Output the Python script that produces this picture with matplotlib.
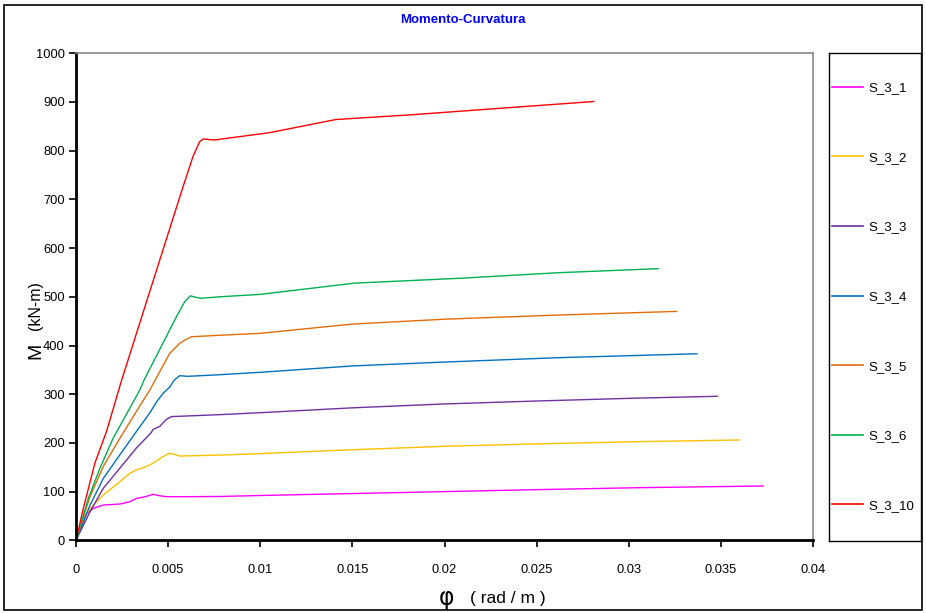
import matplotlib
matplotlib.use("Agg")
import matplotlib.pyplot as plt
from matplotlib.patches import Rectangle
from matplotlib.lines import Line2D
import numpy as np

plt.rcParams['font.family'] = ['Liberation Sans', 'DejaVu Sans']

# ---- data (curvature phi [rad/m], moment M [kN-m]) ----
phi_s3_1 = [0, 0.00022, 0.00058, 0.00094, 0.00148, 0.00239, 0.0029, 0.00329, 0.0038, 0.00419,
            0.0046, 0.00491, 0.006, 0.0078, 0.01, 0.015, 0.02, 0.025, 0.0305, 0.0373]
m_s3_1 = [0, 24, 55, 65.5, 72.4, 74.5, 79, 86, 90, 94.4,
          91, 89.6, 89.6, 90, 92, 96, 100, 104, 108, 111.5]

phi_s3_2 = [0, 0.00058, 0.00094, 0.00148, 0.00239, 0.0029, 0.00329, 0.0038, 0.00419, 0.0046,
            0.00504, 0.0053, 0.00563, 0.0078, 0.01, 0.015, 0.02, 0.025, 0.0305, 0.036]
m_s3_2 = [0, 55, 72.4, 93, 120.6, 137, 145, 151, 158.5, 169,
          178.4, 177, 173, 175, 178, 186, 193, 198, 202.5, 206]

phi_s3_3 = [0, 0.00076, 0.00148, 0.00239, 0.00329, 0.00406, 0.00419, 0.00455, 0.00491, 0.00518,
            0.0078, 0.01, 0.015, 0.02, 0.025, 0.0305, 0.0348]
m_s3_3 = [0, 58.6, 106.8, 148.5, 190, 220, 227.6, 234, 248.4, 254,
          258, 262, 272, 280, 286, 292, 295.7]

phi_s3_4 = [0, 0.00076, 0.00148, 0.00239, 0.00329, 0.00401, 0.00437, 0.00473, 0.0051, 0.00531,
            0.00563, 0.00608, 0.0078, 0.01, 0.015, 0.02, 0.0262, 0.0337]
m_s3_4 = [0, 72, 127, 176, 224, 262, 284, 302, 315, 328,
          338, 336.7, 340, 345, 358, 366, 375, 383]

phi_s3_5 = [0, 0.00076, 0.00148, 0.00239, 0.00329, 0.00401, 0.00428, 0.00509, 0.00563, 0.006,
            0.00627, 0.0078, 0.01, 0.015, 0.02, 0.0262, 0.0326]
m_s3_5 = [0, 89.6, 151.7, 210, 265.5, 308.7, 328, 384, 404.5, 413,
          418, 421, 425, 444, 454, 462.6, 470]

phi_s3_6 = [0, 0.00067, 0.0013, 0.00202, 0.00293, 0.00347, 0.00368, 0.00545, 0.0059, 0.00621,
            0.0065, 0.0068, 0.0078, 0.01, 0.0151, 0.0208, 0.0262, 0.0316]
m_s3_6 = [0, 86, 148, 210, 272, 309, 328, 459, 490, 502,
          499, 497, 500, 505, 528, 538, 549.5, 557.8]

phi_s3_10 = [0, 0.0004, 0.00103, 0.00166, 0.00247, 0.00455, 0.00581, 0.00635, 0.0067, 0.0069,
             0.0075, 0.0105, 0.0125, 0.0141, 0.0183, 0.0219, 0.0281]
m_s3_10 = [0, 66, 159, 224, 328, 576, 726, 788, 818, 824,
           822, 837, 852, 864, 874, 884, 901]

series_names = ["S_3_1", "S_3_2", "S_3_3", "S_3_4", "S_3_5", "S_3_6", "S_3_10"]
series_colors = ["#FF00FF", "#FFC000", "#7030A0", "#0070C0", "#E46C0A", "#00B050", "#FF0000"]
series_phi = [phi_s3_1, phi_s3_2, phi_s3_3, phi_s3_4, phi_s3_5, phi_s3_6, phi_s3_10]
series_m = [m_s3_1, m_s3_2, m_s3_3, m_s3_4, m_s3_5, m_s3_6, m_s3_10]

x_ticks = [0, 0.005, 0.01, 0.015, 0.02, 0.025, 0.03, 0.035, 0.04]
x_tick_labels = ["0", "0.005", "0.01", "0.015", "0.02", "0.025", "0.03", "0.035", "0.04"]
y_ticks = list(range(0, 1001, 100))

W, H = 926, 613
fig = plt.figure(figsize=(W / 100, H / 100), dpi=100)

def fx(px):
    return px / W

def fy(py):
    return 1 - py / H

# main axes
L, R, T, B = 76, 813, 53.3, 540.3
ax = fig.add_axes([fx(L), fy(B), (R - L) / W, (B - T) / H])
for xs, ys, c in zip(series_phi, series_m, series_colors):
    ax.plot(xs, ys, color=c, lw=1.0, solid_joinstyle='round')
ax.set_xlim(0, 0.04)
ax.set_ylim(0, 1000)
ax.set_xticks(x_ticks)
ax.set_xticklabels(x_tick_labels)
ax.set_yticks(y_ticks)
ax.tick_params(axis='both', direction='out', length=5, width=1.2, labelsize=9.3, color='black')
ax.tick_params(axis='x', pad=12)
ax.tick_params(axis='y', pad=3)
for s in ['left', 'bottom']:
    ax.spines[s].set_color('black')
    ax.spines[s].set_linewidth(2.0)
for s in ['top', 'right']:
    ax.spines[s].set_color('#888888')
    ax.spines[s].set_linewidth(1.2)

# title
fig.text(0.5, fy(20), "Momento-Curvatura", color='#0000FF', fontsize=9.5,
         fontweight='bold', ha='center', va='center')

# y label
fig.text(fx(36), fy(351), "M", fontsize=14, rotation=90, ha='center', va='center')
fig.text(fx(36), fy(306), "(kN-m)", fontsize=11.5, rotation=90, ha='center', va='center')

# x label
fig.text(fx(447), fy(598), "φ", fontsize=17, ha='center', va='center',
         family=['DejaVu Sans'])
fig.text(fx(508), fy(598), "( rad / m )", fontsize=12.5, ha='center', va='center')

# legend box
lax = fig.add_axes([fx(829), fy(541), (921 - 829) / W, (541 - 53) / H])
lax.set_xticks([])
lax.set_yticks([])
for s in lax.spines.values():
    s.set_color('black')
    s.set_linewidth(1.0)
handles = [Line2D([0], [0], color=c, lw=1.2) for c in series_colors]
lax.legend(handles, series_names, loc='center left', frameon=False, fontsize=9.5,
           handlelength=2.4, handletextpad=0.35, labelspacing=4.35,
           borderaxespad=0.0, borderpad=0.0, bbox_to_anchor=(0.03, 0.5))

# outer figure frame
fig.patches.append(Rectangle((fx(4), fy(610)), (922 - 4) / W, (610 - 5) / H,
                             transform=fig.transFigure, fill=False,
                             edgecolor='black', lw=1.2))

fig.savefig("out.png", dpi=100)
